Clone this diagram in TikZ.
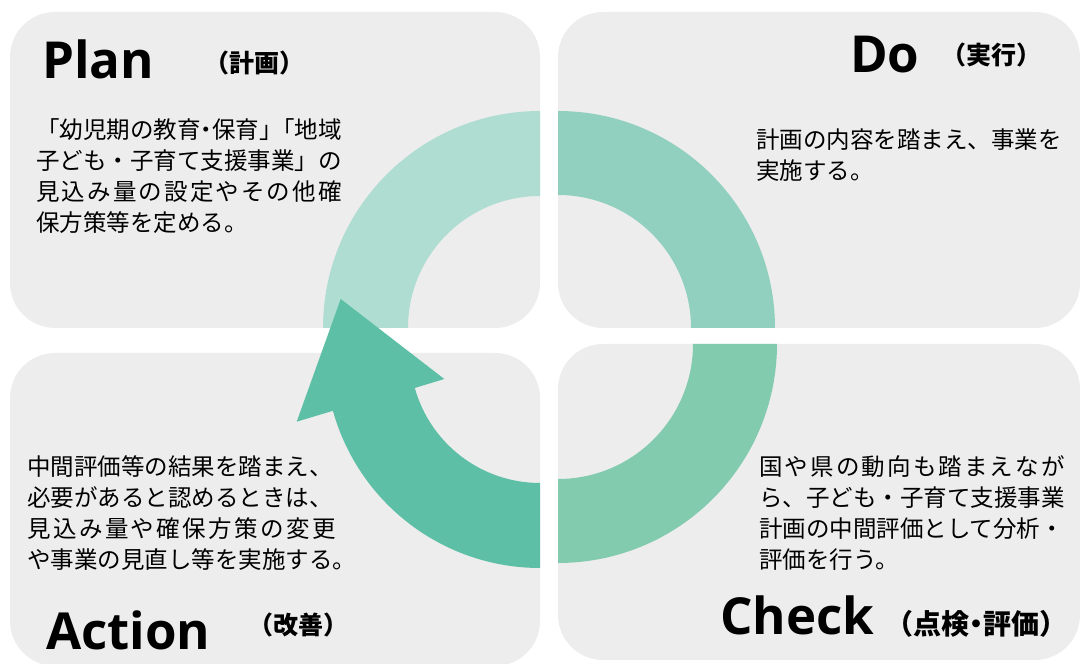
\documentclass[tikz,border=0pt]{standalone}
\usepackage{fontspec}
\usetikzlibrary{calc}
\newfontfamily\jp{Noto Sans CJK JP}
\newfontfamily\hd{Open Sans}
\definecolor{boxgray}{HTML}{EDEDED}
\definecolor{plancol}{HTML}{AFDDD2}
\definecolor{docol}{HTML}{91D0BF}
\definecolor{checkcol}{HTML}{83CBAE}
\definecolor{actcol}{HTML}{5DBFA6}
\makeatletter
\def\jl#1#2{\makebox[#1][s]{\jl@first#2\relax}}
\def\jl@first#1{#1\jl@rest}
\def\jl@rest#1{\ifx#1\relax\else\hfil#1\expandafter\jl@rest\fi}
\makeatother
\newcommand\sq{\hskip 0pt minus 1fil\relax}
\newcommand\dk{\kern-0.25em}
\tikzset{
  panel/.style={fill=boxgray, rounded corners=45pt},
  body/.style={anchor=base west, inner sep=0pt, font=\jp\fontsize{23.5}{31}\selectfont, text=black},
  head/.style={anchor=base west, inner sep=0pt, font=\hd\bfseries\fontsize{51}{51}\selectfont},
  sub/.style={anchor=base west, inner sep=0pt, font=\jp\bfseries\fontsize{25}{25}\selectfont},
}
\begin{document}
\begin{tikzpicture}[x=1pt,y=1pt]
\useasboundingbox (0,0) rectangle (1080,664);
% panels
\fill[panel] (10,336) rectangle (540,652);
\fill[panel] (558,336) rectangle (1080,652);
\fill[panel] (10,-2) rectangle (540,311);
\fill[panel] (558,4) rectangle (1080,320);
% ring quadrants
\fill[plancol] (323,336) arc[start angle=180,end angle=90,radius=217pt] -- (540,468) arc[start angle=90,end angle=180,radius=132pt] -- cycle;
\fill[docol] (558,553) arc[start angle=90,end angle=0,radius=217pt] -- (691,336) arc[start angle=0,end angle=90,radius=133pt] -- cycle;
\fill[checkcol] (777,320) arc[start angle=0,end angle=-90,radius=219pt] -- (558,185) arc[start angle=-90,end angle=0,radius=135pt] -- cycle;
\coordinate (AC) at (540,311);
\coordinate (barbL) at (296.7,242.3);
\coordinate (tip) at (340.7,365);
\coordinate (barbR) at (444.3,285);
\fill[actcol] (540,96) arc[start angle=270,end angle=195.6,radius=215pt] -- (barbL) -- (tip) -- (barbR) -- ($(AC)+(195.6:130pt)$) arc[start angle=195.6,end angle=270,radius=130pt] -- cycle;
% headings
\node[head] (plan) at (42,585) {Plan};
\node[sub] (plansub) at (204,591) {（計画）};
\node[head] (do) at (850,591) {Do};
\node[sub] (dosub) at (941,599) {（実行）};
\node[head] (check) at (720,29) {Check};
\node[sub, font=\jp\bfseries\fontsize{28}{28}\selectfont] (checksub) at (885,29) {（点検\dk{}・\dk{}評価）};
\node[head] (action) at (46,14) {Action};
\node[sub] (actionsub) at (248,29) {（改善）};
% body texts
\node[body] (plantext) at (36,525) {\vtop{\hbox to 305.5pt{「幼児期の教育\sq{}・\sq{}保育」\sq\sq{}「地域}\hbox{子ども・子育て支援事業」の}\hbox{\jl{305.5pt}{見込み量の設定やその他確}}\hbox{保方策等を定める。}}};
\node[body] (dotext) at (756,515) {\vtop{\hbox{計画の内容を踏まえ、事業を}\hbox{実施する。}}};
\node[body] (checktext) at (759,188) {\vtop{\hbox{\jl{305.5pt}{国や県の動向も踏まえなが}}\hbox{ら、子ども・子育て支援事業}\hbox{計画の中間評価として分析・}\hbox{評価を行う。}}};
\node[body] (acttext) at (27,188) {\vtop{\hbox{中間評価等の結果を踏まえ、}\hbox{必要があると認めるときは、}\hbox{\jl{309pt}{見込み量や確保方策の変更}}\hbox{や事業の見直し等を実施する。}}};
\end{tikzpicture}
\end{document}
